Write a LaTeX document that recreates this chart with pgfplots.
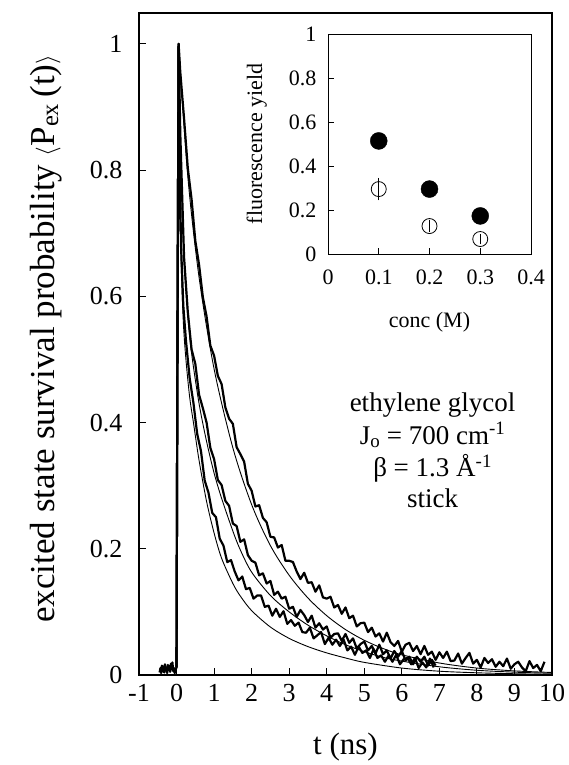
\documentclass[border=0pt]{standalone}
\usepackage{fontspec}
\setmainfont{Liberation Serif}
\usepackage{pgfplots}
\pgfplotsset{compat=1.18}
\begin{document}
\begin{tikzpicture}
\useasboundingbox (-139pt,-90pt) rectangle (430pt,675pt);
% main panel
\begin{axis}[
    at={(0pt,0pt)}, anchor=south west,
    scale only axis, width=413pt, height=662pt,
    xmin=-1, xmax=10, ymin=0, ymax=1.049,
    xtick={-1,0,1,2,3,4,5,6,7,8,9,10},
    ytick={0,0.2,0.4,0.6,0.8,1},
    tick align=inside, xtick pos=bottom, ytick pos=left,
    major tick length=7pt,
    axis line style={line width=1.1pt},
    tick style={line width=1pt, black},
    /pgf/number format/assume math mode=true,
    ticklabel style={font=\fontsize{26}{26}\selectfont},
    yticklabel style={xshift=-13pt},
    xticklabel style={yshift=-6pt},
    xlabel={t (ns)},
    xlabel style={font=\fontsize{31}{31}\selectfont, at={(axis description cs:0.5,-0.1208)}, anchor=base},
    ylabel={excited state survival probability $\bigl\langle$P\textsubscript{ex}\,(t)$\bigr\rangle$},
    ylabel style={font=\fontsize{35}{35}\selectfont, at={(axis description cs:-0.205,0.508)}, anchor=base},
]
% outer data (slowest decay)
\addplot[black, line width=2.2pt, line join=round] coordinates {
(-0.45,0.004)(-0.43,0.011)(-0.41,0.003)(-0.39,0.015)(-0.37,0.006)(-0.35,0.013)(-0.33,0.004)(-0.31,0.017)
(-0.29,0.007)(-0.27,0.012)(-0.25,0.003)(-0.23,0.016)(-0.21,0.008)(-0.19,0.014)(-0.17,0.005)(-0.15,0.018)
(-0.13,0.009)(-0.11,0.020)(-0.09,0.006)(-0.07,0.011)(-0.05,0.003)(-0.03,0.008)(0.0,0.012)(0.02,0.45)(0.055,1.0)
(0.1,0.955)(0.2,0.882)(0.3,0.803)(0.4,0.754)(0.5,0.688)(0.6,0.650)(0.7,0.599)(0.8,0.568)(0.9,0.522)
(1.0,0.506)(1.1,0.474)(1.2,0.461)(1.3,0.424)(1.4,0.406)(1.5,0.398)(1.6,0.361)(1.7,0.350)(1.8,0.338)(1.9,0.303)
(2.0,0.292)(2.1,0.267)(2.2,0.269)(2.3,0.249)(2.4,0.242)(2.5,0.219)(2.6,0.218)(2.7,0.202)(2.8,0.206)(2.9,0.181)
(3.0,0.181)(3.1,0.179)(3.2,0.164)(3.3,0.152)(3.4,0.162)(3.5,0.146)(3.6,0.147)(3.7,0.132)(3.8,0.142)(3.9,0.123)
(4.0,0.121)(4.1,0.124)(4.2,0.107)(4.3,0.111)(4.4,0.097)(4.5,0.107)(4.6,0.090)(4.7,0.094)(4.8,0.077)(4.9,0.082)
(5.0,0.083)(5.1,0.068)(5.2,0.075)(5.3,0.061)(5.4,0.066)(5.5,0.053)(5.6,0.067)(5.7,0.052)(5.8,0.046)(5.9,0.054)
(6.0,0.037)(6.1,0.048)(6.2,0.051)(6.3,0.038)(6.4,0.046)(6.5,0.033)(6.6,0.046)(6.7,0.032)(6.8,0.037)(6.9,0.024)
(7.0,0.036)(7.1,0.027)(7.2,0.037)(7.3,0.022)(7.4,0.023)(7.5,0.034)(7.6,0.018)(7.7,0.027)(7.8,0.035)(7.9,0.018)
(8.0,0.024)(8.1,0.012)(8.2,0.027)(8.3,0.019)(8.4,0.025)(8.5,0.013)(8.6,0.021)(8.7,0.014)(8.8,0.026)(8.9,0.010)
(9.0,0.017)(9.1,0.021)(9.2,0.012)(9.3,0.006)(9.4,0.022)(9.5,0.011)(9.6,0.016)(9.7,0.006)(9.8,0.021)
};
% middle data
\addplot[black, line width=2.2pt, line join=round] coordinates {
(0.0,0.012)(0.02,0.45)(0.055,1.0)(0.1,0.857)(0.2,0.662)(0.3,0.575)
(0.4,0.516)(0.5,0.493)(0.6,0.444)(0.7,0.423)(0.8,0.400)(0.9,0.360)
(1.0,0.342)(1.1,0.309)(1.2,0.301)(1.3,0.276)(1.4,0.268)(1.5,0.240)(1.6,0.236)(1.7,0.211)(1.8,0.215)(1.9,0.190)
(2.0,0.181)(2.1,0.178)(2.2,0.158)(2.3,0.161)(2.4,0.145)(2.5,0.149)(2.6,0.127)(2.7,0.132)(2.8,0.121)(2.9,0.124)
(3.0,0.105)(3.1,0.108)(3.2,0.092)(3.3,0.103)(3.4,0.095)(3.5,0.084)(3.6,0.094)(3.7,0.075)(3.8,0.082)(3.9,0.072)
(4.0,0.077)(4.1,0.059)(4.2,0.065)(4.3,0.066)(4.4,0.054)(4.5,0.065)(4.6,0.051)(4.7,0.058)(4.8,0.042)(4.9,0.049)
(5.0,0.053)(5.1,0.039)(5.2,0.046)(5.3,0.034)(5.4,0.048)(5.5,0.033)(5.6,0.039)(5.7,0.026)(5.8,0.038)(5.9,0.029)
(6.0,0.038)(6.1,0.023)(6.2,0.029)(6.3,0.017)(6.4,0.029)(6.5,0.021)(6.6,0.029)(6.7,0.015)(6.8,0.024)(6.9,0.015)
};
% inner data (fastest decay)
\addplot[black, line width=2.2pt, line join=round] coordinates {
(0.0,0.012)(0.02,0.45)(0.055,1.0)(0.08,0.82)(0.12,0.68)(0.18,0.585)(0.25,0.53)(0.35,0.47)
(0.45,0.431)(0.55,0.382)(0.65,0.355)(0.75,0.308)(0.85,0.289)(0.95,0.257)
(1.05,0.250)(1.15,0.216)(1.25,0.205)(1.35,0.179)(1.45,0.182)(1.55,0.164)(1.65,0.150)(1.75,0.156)(1.85,0.136)(1.95,0.138)
(2.05,0.121)(2.15,0.126)(2.25,0.126)(2.35,0.108)(2.45,0.110)(2.55,0.094)(2.65,0.105)(2.75,0.092)(2.85,0.101)(2.95,0.081)
(3.05,0.087)(3.15,0.078)(3.25,0.083)(3.35,0.068)(3.45,0.067)(3.55,0.075)(3.65,0.058)(3.75,0.063)(3.85,0.068)(3.95,0.049)
(4.05,0.059)(4.15,0.048)(4.25,0.056)(4.35,0.046)(4.45,0.056)(4.55,0.039)(4.65,0.045)(4.75,0.032)(4.85,0.045)(4.95,0.035)
(5.05,0.039)(5.15,0.027)(5.25,0.041)(5.35,0.027)(5.45,0.031)(5.55,0.021)(5.65,0.031)(5.75,0.021)(5.85,0.032)(5.95,0.017)
(6.05,0.025)(6.15,0.027)(6.25,0.017)(6.35,0.027)(6.45,0.011)(6.55,0.020)(6.65,0.012)(6.75,0.026)(6.85,0.012)
};
% fits
\addplot[black, line width=0.9pt, smooth] coordinates {
(0.055,1.0)(0.3,0.79)(0.6,0.63)(1.0,0.485)(1.5,0.36)(2.0,0.27)(2.5,0.205)(3.0,0.158)(3.5,0.122)
(4.0,0.094)(4.5,0.072)(5.0,0.055)(5.5,0.042)(6.0,0.032)(7.0,0.019)(8.0,0.011)(9.0,0.0065)(10,0.004)
};
\addplot[black, line width=0.9pt, smooth] coordinates {
(0.055,1.0)(0.12,0.80)(0.2,0.66)(0.3,0.57)(0.4,0.51)(0.6,0.43)(0.8,0.37)(1.0,0.32)(1.2,0.28)(1.5,0.228)
(1.7,0.198)(2.0,0.163)(2.5,0.126)(3.0,0.10)(3.5,0.079)(4.0,0.062)(4.5,0.048)(5.0,0.037)(5.5,0.028)
(6.0,0.022)(7.0,0.013)(8.0,0.0075)(9.0,0.0045)(10,0.0027)
};
\addplot[black, line width=0.9pt, smooth] coordinates {
(0.055,1.0)(0.08,0.80)(0.12,0.66)(0.18,0.56)(0.25,0.50)(0.35,0.44)(0.45,0.40)(0.6,0.34)(0.8,0.275)
(1.0,0.225)(1.2,0.185)(1.5,0.145)(1.7,0.125)(2.0,0.102)(2.5,0.076)(3.0,0.058)(3.5,0.045)(4.0,0.035)
(4.5,0.027)(5.0,0.020)(6.0,0.011)(7.0,0.006)(8.0,0.0035)(9.0,0.002)(10,0.001)
};
\node[font=\fontsize{27}{27}\selectfont, anchor=base] at (axis cs:6.82,0.418) {ethylene glycol};
\node[font=\fontsize{27}{27}\selectfont, anchor=base] at (axis cs:6.82,0.366) {J\textsubscript{o} = 700 cm\textsuperscript{-1}};
\node[font=\fontsize{27}{27}\selectfont, anchor=base] at (axis cs:6.82,0.314) {β = 1.3 Å\textsuperscript{-1}};
\node[font=\fontsize{27}{27}\selectfont, anchor=base] at (axis cs:6.82,0.265) {stick};
\end{axis}
% inset
\begin{axis}[
    at={(189pt,421pt)}, anchor=south west,
    scale only axis, width=203pt, height=220pt,
    xmin=0, xmax=0.4, ymin=0, ymax=1,
    xtick={0,0.1,0.2,0.3,0.4},
    ytick={0,0.2,0.4,0.6,0.8,1},
    tick align=inside, xtick pos=bottom, ytick pos=left,
    major tick length=6pt,
    axis background/.style={fill=white},
    axis line style={line width=0.9pt},
    tick style={line width=0.9pt, black},
    /pgf/number format/assume math mode=true,
    ticklabel style={font=\fontsize{22}{22}\selectfont},
    yticklabel style={xshift=-8pt},
    xticklabel style={yshift=-12pt},
    xlabel={conc (M)},
    xlabel style={font=\fontsize{22}{22}\selectfont, at={(axis description cs:0.5,-0.332)}, anchor=base},
    ylabel={fluorescence yield},
    ylabel style={font=\fontsize{22}{22}\selectfont, at={(axis description cs:-0.325,0.5)}, anchor=base},
]
\addplot[only marks, mark=*, mark size=8.5pt, black] coordinates {(0.1,0.514)(0.2,0.295)(0.3,0.173)};
\addplot[only marks, mark=o, mark size=7.5pt, black, mark options={line width=0.8pt},
    error bars/.cd, y dir=both, y explicit,
    error bar style={line width=0.9pt},
    error mark options={mark size=3.5pt, line width=0.9pt}]
    coordinates {(0.1,0.295) +- (0,0.035) (0.2,0.127) +- (0,0.011) (0.3,0.068) +- (0,0.008)};
\end{axis}
\end{tikzpicture}
\end{document}
